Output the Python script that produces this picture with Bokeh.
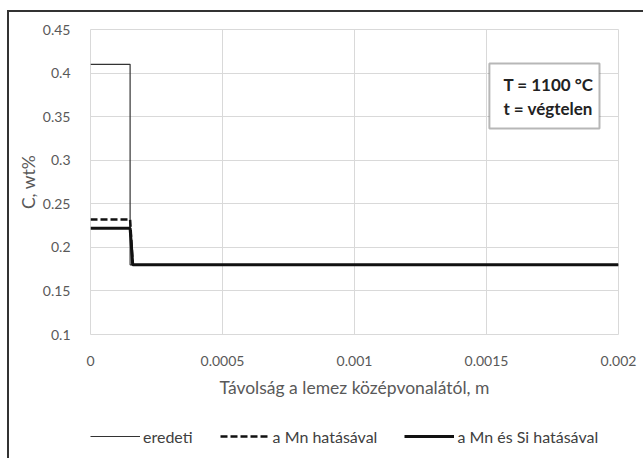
from bokeh.plotting import figure
from bokeh.models import (FixedTicker, Legend, LegendItem, BoxAnnotation, Label,
                          Range1d)
from bokeh.layouts import column
from bokeh.embed import file_html
from bokeh.resources import INLINE

# ---- data ----
x_eredeti = [0.0, 0.00015, 0.00015, 0.002]
y_eredeti = [0.41, 0.41, 0.18, 0.18]
x_mn = [0.0, 0.00015, 0.00016]
y_mn = [0.232, 0.232, 0.18]
x_mnsi = [0.0, 0.00015, 0.00016, 0.002]
y_mnsi = [0.222, 0.222, 0.18, 0.18]
series_names = ["eredeti", "a Mn hatásával", "a Mn és Si hatásával"]
x_ticks = [0.0, 0.0005, 0.001, 0.0015, 0.002]
x_tick_labels = ["0", "0.0005", "0.001", "0.0015", "0.002"]
y_ticks = [0.1, 0.15, 0.2, 0.25, 0.3, 0.35, 0.4, 0.45]
y_tick_labels = ["0.1", "0.15", "0.2", "0.25", "0.3", "0.35", "0.4", "0.45"]
box_lines = ["T = 1100 °C", "t = végtelen"]

FONT = "Lato"
GRAY = "#595959"
GRID = "#d9d9d9"
styles = [dict(line_color="#333333", line_width=1.2),
          dict(line_color="#111111", line_width=2.5, line_dash="7 3"),
          dict(line_color="#111111", line_width=3)]
series = [(x_eredeti, y_eredeti), (x_mn, y_mn), (x_mnsi, y_mnsi)]

p = figure(width=643, height=415, output_backend="svg", toolbar_location=None,
           x_range=Range1d(0, 0.002), y_range=Range1d(0.1, 0.45),
           min_border_left=90, min_border_right=25, min_border_top=29,
           min_border_bottom=81)
p.outline_line_color = GRID
p.outline_line_width = 1
p.border_fill_alpha = 0
p.background_fill_alpha = 0

for ax in (p.xaxis[0], p.yaxis[0]):
    ax.axis_line_color = None
    ax.major_tick_line_color = None
    ax.minor_tick_line_color = None
    ax.major_label_text_font = FONT
    ax.major_label_text_font_size = "14px"
    ax.major_label_text_color = GRAY
    ax.axis_label_text_font = FONT
    ax.axis_label_text_font_style = "normal"
    ax.axis_label_text_font_size = "17.5px"
    ax.axis_label_text_color = GRAY

p.xaxis.ticker = FixedTicker(ticks=x_ticks)
p.xaxis.major_label_overrides = dict(zip(x_ticks, x_tick_labels))
p.yaxis.ticker = FixedTicker(ticks=y_ticks)
p.yaxis.major_label_overrides = dict(zip(y_ticks, y_tick_labels))
p.xaxis.major_label_standoff = 15
p.yaxis.major_label_standoff = 14
p.xaxis.axis_label = "Távolság a lemez középvonalától, m"
p.yaxis.axis_label = "C, wt%"
p.xaxis.axis_label_standoff = 8
p.yaxis.axis_label_standoff = 1

p.xgrid.grid_line_color = GRID
p.ygrid.grid_line_color = GRID
p.xgrid.ticker = FixedTicker(ticks=x_ticks)
p.ygrid.ticker = FixedTicker(ticks=y_ticks)

for (xs, ys), s in zip(series, styles):
    p.line(xs, ys, **s)

box = BoxAnnotation(left=0.001511, right=0.001928, bottom=0.3365, top=0.411,
                    fill_color="white", fill_alpha=1, line_color="#111111",
                    line_width=2)
p.add_layout(box)
p.add_layout(Label(x=0.001564, y=0.3869, text=box_lines[0], text_font=FONT,
                   text_font_size="17px", text_font_style="bold",
                   text_color="#222222", text_baseline="middle"))
p.add_layout(Label(x=0.001564, y=0.3594, text=box_lines[1], text_font=FONT,
                   text_font_size="17px", text_font_style="bold",
                   text_color="#222222", text_baseline="middle"))

# legend strip below the chart; its y-range keeps the series out of view,
# so only the legend entries are visible
lg = figure(width=643, height=43, output_backend="svg", toolbar_location=None,
            x_range=Range1d(0, 0.002), y_range=Range1d(1, 2),
            x_axis_type=None, y_axis_type=None,
            min_border_left=0, min_border_right=0, min_border_top=0,
            min_border_bottom=0)
lg.outline_line_color = None
lg.xgrid.visible = False
lg.ygrid.visible = False
lg.border_fill_alpha = 0
lg.background_fill_alpha = 0
renderers = [lg.line(xs, ys, **s) for (xs, ys), s in zip(series, styles)]
legend = Legend(items=[LegendItem(label=n, renderers=[r])
                       for n, r in zip(series_names, renderers)],
                orientation="horizontal", location=(0, 12),
                glyph_width=50, glyph_height=20, label_height=20,
                label_standoff=3, spacing=27, padding=0, margin=0,
                border_line_color=None, background_fill_alpha=0,
                label_text_font=FONT, label_text_font_size="16px",
                label_text_color="#404040")
lg.add_layout(legend, "center")

layout = column(p, lg, spacing=0)
layout.styles = {
    "background-image": "linear-gradient(#333333, #333333), linear-gradient(#333333, #333333)",
    "background-position": "7px 10px, 7px 10px",
    "background-size": "2px 100%, 100% 2px",
    "background-repeat": "no-repeat",
}

open("out.html", "w").write(file_html(layout, INLINE))
